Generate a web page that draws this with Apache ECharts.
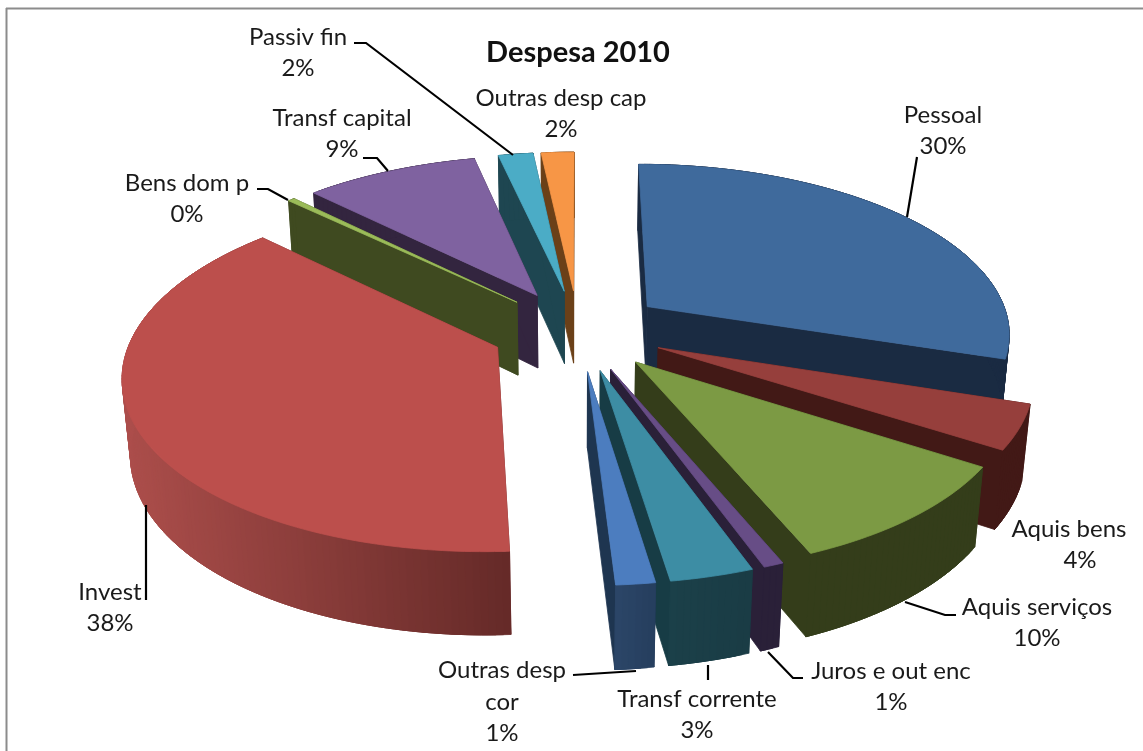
<!DOCTYPE html>
<html>
<head>
<meta charset="utf-8">
<style>html,body{margin:0;padding:0;background:#fff}#c{width:1143px;height:751px}</style>
<script src="https://cdn.jsdelivr.net/npm/echarts@6/dist/echarts.min.js"></script>
</head>
<body>
<div id="c"></div>
<script>
// ---- data ----
const categories = ['Pessoal','Aquis bens','Aquis serviços','Juros e out enc','Transf corrente','Outras desp cor','Invest','Bens dom p','Transf capital','Passiv fin','Outras desp cap'];
const shares = [30.0, 4.1, 9.65, 0.75, 3.1, 1.45, 38.1, 0.35, 9.0, 1.8, 1.7];

// ---- styles ----
const topColors  = ['#3F6A9C','#963F3C','#7C9A44','#674D86','#3D8DA4','#4C7DBF','#BC4F4C','#9BBB59','#7F62A0','#4BACC6','#F79646'];
const wallColors = ['#1A2B42','#421916','#343D1A','#2A2038','#173C45','#1E3550','#6B2A28','#3F4A20','#33253F','#1E4651','#6B4018'];
const outerLight = ['#1A2B42','#421916','#343D1A','#2A2038','#1B4049','#2B4668','#AC4E4B','#3F4A20','#33253F','#1E4651','#6B4018'];
const outerDark  = ['#1A2B42','#421916','#343D1A','#2A2038','#1A3C45','#263E5E','#652A28','#3F4A20','#33253F','#1E4651','#6B4018'];

// ---- layout of the 3D view ----
const view = {cx:578, cy:330, k:364, ks:169.2, e:0.145, explode:0.24, h:0.234};
view.s = view.ks / view.k;
view.c = Math.sqrt(1 - view.s * view.s);
view.D = view.c / view.e;
view.F = view.k * view.D;

function project(X, Y, Z) {
  const w = view.D - (Y * view.c + Z * view.s);
  return [view.cx + view.F * X / w, view.cy + view.F * (Y * view.s - Z * view.c) / w];
}
function mix(c1, c2, t) {
  const p = c => [1, 3, 5].map(o => parseInt(c.substr(o, 2), 16));
  const a = p(c1), b = p(c2);
  return 'rgb(' + a.map((v, i) => Math.round(v + (b[i] - v) * t)).join(',') + ')';
}

const total = shares.reduce((a, b) => a + b, 0);
let acc = 0;
const slices = shares.map((v, i) => {
  const a0 = acc / total * 2 * Math.PI; acc += v;
  const a1 = acc / total * 2 * Math.PI;
  return {i, a0, a1, mid: (a0 + a1) / 2};
});
const paintOrder = slices.slice().sort((p, q) => Math.cos(q.mid) - Math.cos(p.mid)).map(s => s.i);

function renderSlice(params, api) {
  const idx = api.value(0), s = slices[idx], rank = params.dataIndex;
  const ox = view.explode * Math.sin(s.mid), oy = -view.explode * Math.cos(s.mid);
  const steps = Math.max(2, Math.ceil((s.a1 - s.a0) / (Math.PI / 180)));
  const arcTop = [], arcBot = [];
  for (let j = 0; j <= steps; j++) {
    const a = s.a0 + (s.a1 - s.a0) * j / steps;
    const X = ox + Math.sin(a), Y = oy - Math.cos(a);
    arcTop.push(project(X, Y, 0));
    arcBot.push(project(X, Y, -view.h));
  }
  const apexT = project(ox, oy, 0), apexB = project(ox, oy, -view.h);
  const poly = (points, fill, z) => ({type:'polygon', z2:rank * 10 + z, shape:{points},
    style:{fill, stroke:fill, lineWidth:0.8}});
  const n = arcTop.length - 1;
  const xs = arcTop.map(p => p[0]);
  const xMin = Math.min(...xs), xMax = Math.max(...xs);
  const children = [
    poly([apexT, arcTop[0], arcBot[0], apexB], wallColors[idx], 1),
    poly([apexT, arcTop[n], arcBot[n], apexB], wallColors[idx], 2)
  ];
  // each strip of the outer wall overlaps the next one so no seams show
  for (let j = 0; j < n; j++) {
    const k2 = Math.min(n, j + 3);
    const t = ((arcTop[j][0] + arcTop[j + 1][0]) / 2 - xMin) / Math.max(1, xMax - xMin);
    const tops = arcTop.slice(j, k2 + 1), bots = arcBot.slice(j, k2 + 1).reverse();
    children.push(poly(tops.concat(bots), mix(outerLight[idx], outerDark[idx], t), 3));
  }
  children.push(poly([apexT].concat(arcTop), topColors[idx], 4));
  return {type:'group', children};
}

// ---- label placement ----
const labelLines = {
  'Pessoal':['Pessoal'], 'Aquis bens':['Aquis bens'], 'Aquis serviços':['Aquis serviços'],
  'Juros e out enc':['Juros e out enc'], 'Transf corrente':['Transf corrente'],
  'Outras desp cor':['Outras desp','cor'], 'Invest':['Invest'], 'Bens dom p':['Bens dom p'],
  'Transf capital':['Transf capital'], 'Passiv fin':['Passiv fin'], 'Outras desp cap':['Outras desp cap']
};
const labelAt = {
  'Pessoal':[943,115], 'Aquis bens':[1069,529], 'Aquis serviços':[1037,607],
  'Juros e out enc':[891,671], 'Transf corrente':[697,699], 'Outras desp cor':[502,670],
  'Invest':[110,592], 'Bens dom p':[187,183], 'Transf capital':[342,118],
  'Passiv fin':[298,37], 'Outras desp cap':[561,98]
};
const pctDx = {'Aquis bens':11};
const leaders = [
  [[917,157],[907,217]],
  [[905,602],[945,615],[956,615]],
  [[768,652],[793,678],[803,678]],
  [[708,665],[708,680]],
  [[573,675],[636,671]],
  [[146,505],[146,600]],
  [[257,189],[268,189],[288,200]],
  [[363,158],[377,158],[388,171]],
  [[354,43],[366,43],[513,155]]
];

const graphics = [
  {type:'line', silent:true, shape:{x1:6.5,y1:8,x2:6.5,y2:751}, style:{stroke:'#8C8C8C',lineWidth:2}},
  {type:'line', silent:true, shape:{x1:6,y1:8.5,x2:1143,y2:8.5}, style:{stroke:'#8C8C8C',lineWidth:2}}
];
leaders.forEach(pts => graphics.push({type:'polyline', silent:true, z:5, shape:{points:pts}, style:{fill:'none',stroke:'#000',lineWidth:2.2}}));
categories.forEach((name, i) => {
  const [x, y] = labelAt[name];
  const lines = labelLines[name];
  const lh = 32;
  lines.forEach((t, j) => graphics.push({type:'text', silent:true, z:6, x, y:y + j * lh,
    style:{text:t, fill:'#1a1a1a', font:'24px Lato', textAlign:'center', textVerticalAlign:'middle'}}));
  graphics.push({type:'text', silent:true, z:6, x:x + (pctDx[name] || 0), y:y + lines.length * lh - 1,
    style:{text:Math.round(shares[i]) + '%', fill:'#1a1a1a', font:'24px Lato', textAlign:'center', textVerticalAlign:'middle'}});
});

const chart = echarts.init(document.getElementById('c'), null, {renderer:'canvas', width:1143, height:751});
chart.setOption({
  animation:false,
  backgroundColor:'#fff',
  title:{text:'Despesa 2010', left:573, top:33, textAlign:'center',
    textStyle:{fontFamily:'Lato', fontWeight:'bold', fontSize:29, color:'#111'}},
  graphic:graphics,
  series:[{type:'custom', coordinateSystem:'none', renderItem:renderSlice, silent:true,
    data:paintOrder.map(i => [i, shares[i]])}]
});
</script>
</body>
</html>
